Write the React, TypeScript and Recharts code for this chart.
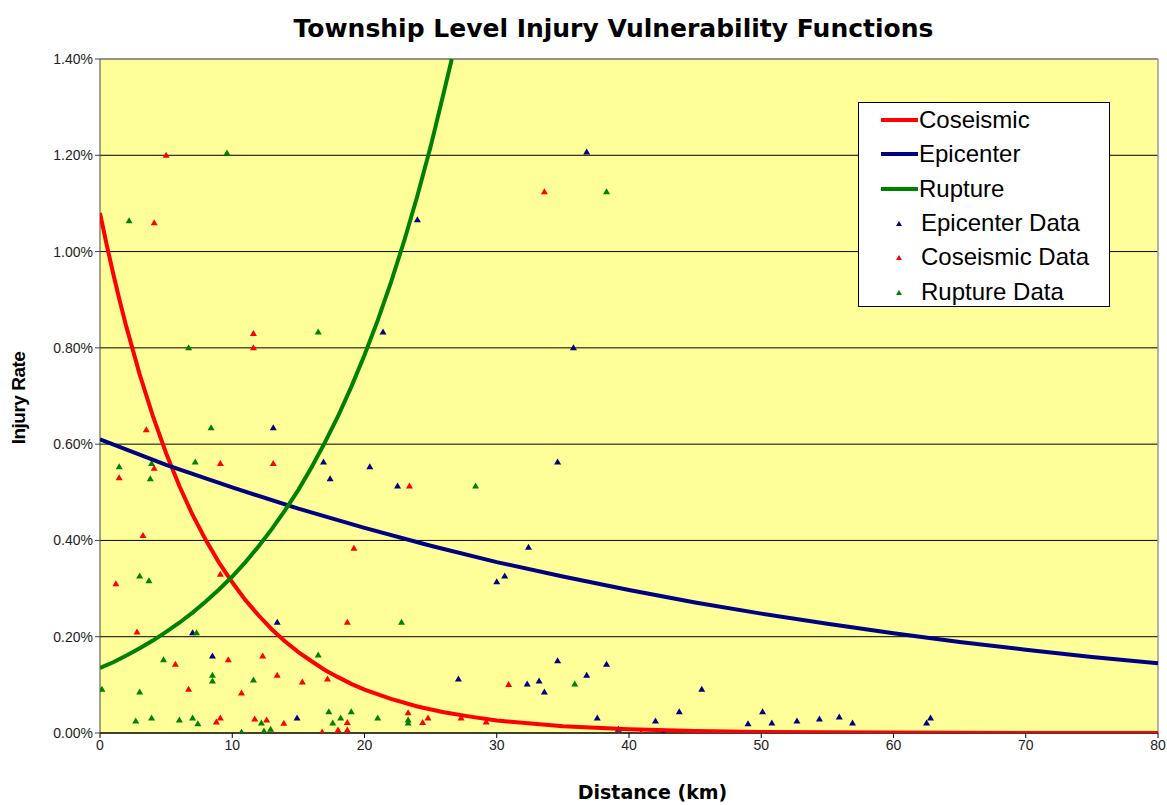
import React from 'react';
import {
    CartesianGrid,
    ReferenceLine,
    Scatter,
    ScatterChart,
    XAxis,
    YAxis
} from 'recharts';

// fitted curves (km, injury rate %)
const coseismicX = [0, 0.5, 1, 1.5, 2, 3, 4, 5, 6, 7, 8, 9, 10, 11, 12, 13, 14, 15, 16, 17, 18, 19, 20, 22, 24, 26, 28, 30, 35, 40, 45, 50, 60, 70, 80];
const coseismicY = [1.08, 1.015, 0.954, 0.897, 0.843, 0.745, 0.658, 0.581, 0.513, 0.453, 0.401, 0.354, 0.313, 0.276, 0.244, 0.215, 0.19, 0.168, 0.149, 0.131, 0.116, 0.102, 0.09, 0.071, 0.055, 0.043, 0.034, 0.026, 0.014, 0.008, 0.004, 0.002, 0.001, 0.0, 0.0];

const epicenterX = [0, 5, 10, 15, 20, 25, 30, 35, 40, 45, 50, 55, 60, 65, 70, 75, 80];
const epicenterY = [0.61, 0.557, 0.51, 0.466, 0.426, 0.389, 0.355, 0.325, 0.297, 0.271, 0.248, 0.227, 0.207, 0.189, 0.173, 0.158, 0.145];

const ruptureX = [0, 1, 2, 3, 4, 5, 6, 7, 8, 9, 10, 11, 12, 13, 14, 15, 16, 17, 18, 19, 20, 21, 22, 23, 24, 25, 26, 26.6];
const ruptureY = [0.135, 0.147, 0.161, 0.176, 0.192, 0.21, 0.229, 0.25, 0.273, 0.298, 0.325, 0.355, 0.388, 0.424, 0.463, 0.505, 0.552, 0.603, 0.658, 0.719, 0.785, 0.857, 0.936, 1.022, 1.116, 1.218, 1.331, 1.4];

// township data points [km, %]
const epicenterData: [number, number][] = [
    [36.8, 1.207], [24.0, 1.066], [21.4, 0.833], [35.8, 0.8], [34.6, 0.563], [22.5, 0.513], [32.4, 0.386],
    [13.1, 0.634], [16.9, 0.563], [20.4, 0.553], [17.4, 0.528], [13.4, 0.23], [7.0, 0.208], [8.5, 0.16],
    [14.9, 0.031], [30.0, 0.314], [30.6, 0.326], [27.1, 0.112], [32.3, 0.102], [33.2, 0.108], [33.6, 0.085],
    [34.6, 0.15], [36.8, 0.12], [38.3, 0.143], [37.6, 0.031], [39.2, 0.008], [42.0, 0.025], [42.6, 0.002],
    [43.8, 0.044], [45.5, 0.091], [49.0, 0.019], [50.1, 0.044], [50.8, 0.021], [52.7, 0.025], [54.4, 0.029],
    [55.9, 0.033], [56.9, 0.021], [62.5, 0.021], [62.8, 0.031]
];

const coseismicData: [number, number][] = [
    [5.0, 1.2], [4.1, 1.06], [11.6, 0.83], [11.6, 0.8], [3.5, 0.63], [9.1, 0.56], [13.1, 0.56], [4.1, 0.55],
    [1.45, 0.53], [23.4, 0.513], [3.25, 0.41], [1.2, 0.31], [9.1, 0.33], [19.2, 0.384], [2.8, 0.21],
    [18.7, 0.23], [5.7, 0.143], [9.7, 0.152], [12.3, 0.16], [6.7, 0.091], [10.7, 0.083], [13.4, 0.12],
    [15.3, 0.106], [17.2, 0.112], [8.8, 0.023], [9.1, 0.031], [11.7, 0.029], [12.6, 0.027], [13.9, 0.02],
    [16.8, 0.002], [18.0, 0.006], [18.7, 0.022], [18.7, 0.006], [23.3, 0.042], [24.4, 0.022], [24.8, 0.031],
    [27.3, 0.031], [29.2, 0.023], [30.9, 0.101], [40.9, 0.0], [33.6, 1.124]
];

const ruptureData: [number, number][] = [
    [9.6, 1.205], [2.2, 1.064], [6.7, 0.8], [16.5, 0.833], [8.4, 0.634], [7.2, 0.563], [1.45, 0.553],
    [3.8, 0.528], [3.9, 0.56], [38.3, 1.124], [28.4, 0.513], [3.0, 0.326], [3.7, 0.316], [7.3, 0.208],
    [4.8, 0.152], [8.5, 0.12], [8.5, 0.108], [0.15, 0.091], [3.0, 0.085], [11.6, 0.11], [16.5, 0.162],
    [2.7, 0.025], [3.9, 0.031], [6.0, 0.027], [7.0, 0.031], [7.4, 0.019], [10.7, 0.002], [12.2, 0.021],
    [12.4, 0.004], [12.9, 0.008], [17.3, 0.044], [17.6, 0.021], [18.2, 0.031], [19.0, 0.044], [21.0, 0.031],
    [22.8, 0.23], [23.3, 0.027], [23.3, 0.021], [35.9, 0.102], [46.3, 0.0]
];

const xTicks = [0, 10, 20, 30, 40, 50, 60, 70, 80];
const yTicks = [0, 0.2, 0.4, 0.6, 0.8, 1.0, 1.2, 1.4];

const RED = '#ff0000';
const NAVY = '#000080';
const GREEN = '#008000';
const FONT = '"Liberation Sans", Arial, sans-serif';
const BOLD_FONT = '"DejaVu Sans", Verdana, sans-serif';

const toPoints = (xs: number[], ys: number[]) => xs.map((x, i) => ({ x, y: ys[i] }));
const pairs = (arr: [number, number][]) => arr.map(([x, y]) => ({ x, y }));

const triangle = (color: string) => (props: any) => {
    const { cx, cy } = props;
    if (cx == null || cy == null) return <g />;
    return (
        <polygon
            points={`${cx},${cy - 3.5} ${cx + 3.5},${cy + 2.5} ${cx - 3.5},${cy + 2.5}`}
            fill={color}
        />
    );
};

const noShape = () => <g />;

const legendItems = [
    { label: 'Coseismic', color: RED, kind: 'line' },
    { label: 'Epicenter', color: NAVY, kind: 'line' },
    { label: 'Rupture', color: GREEN, kind: 'line' },
    { label: 'Epicenter Data', color: NAVY, kind: 'marker' },
    { label: 'Coseismic Data', color: RED, kind: 'marker' },
    { label: 'Rupture Data', color: GREEN, kind: 'marker' }
];

const ChartLegend = () => (
    <div style={{
        position: 'absolute', left: 858, top: 102, width: 252, height: 205,
        background: '#fff', border: '1px solid #000', fontFamily: FONT, fontSize: 24,
        color: '#000', boxSizing: 'border-box', paddingTop: 0
    }}>
        {legendItems.map(item => (
            <div key={item.label} style={{ display: 'flex', alignItems: 'center', height: 34.3, lineHeight: '34px' }}>
                <svg width={60} height={20} style={{ flexShrink: 0 }}>
                    {item.kind === 'line'
                        ? <line x1={22} x2={59} y1={10} y2={10} stroke={item.color} strokeWidth={4} />
                        : <polygon points="40,8 43,13 37,13" fill={item.color} />}
                </svg>
                <span style={{ marginLeft: item.kind === 'line' ? 0 : 2 }}>{item.label}</span>
            </div>
        ))}
    </div>
);

export default function App() {
    return (
        <div style={{ position: 'absolute', left: 0, top: 0, width: 1167, height: 805, background: '#fff', fontFamily: FONT }}>
            <div style={{
                position: 'absolute', left: 0, top: 14, width: 1167, textAlign: 'center',
                fontFamily: BOLD_FONT, fontSize: 25, fontWeight: 'bold', paddingLeft: 60, boxSizing: 'border-box'
            }}>
                Township Level Injury Vulnerability Functions
            </div>
            <div style={{
                position: 'absolute', left: 19, top: 398, transform: 'translate(-50%, -50%) rotate(-90deg)',
                fontSize: 19, fontWeight: 'bold', whiteSpace: 'nowrap', letterSpacing: -0.5
            }}>
                Injury Rate
            </div>
            <div style={{
                position: 'absolute', left: 0, top: 781, width: 1167, textAlign: 'center',
                fontFamily: BOLD_FONT, fontSize: 19, fontWeight: 'bold', paddingLeft: 138, boxSizing: 'border-box'
            }}>
                Distance (km)
            </div>
            <div style={{ position: 'absolute', left: 0, top: 0 }}>
                <ScatterChart width={1167} height={805} margin={{ top: 59, right: 9, bottom: 0, left: 40 }}>
                    <CartesianGrid vertical={false} stroke="#000" strokeWidth={1} fill="#ffff99" fillOpacity={1} />
                    <XAxis
                        type="number"
                        dataKey="x"
                        domain={[0, 80]}
                        ticks={xTicks}
                        allowDataOverflow
                        stroke="#000"
                        tickSize={5}
                        tick={{ fill: '#222', fontSize: 14, fontFamily: FONT }}
                        height={72}
                    />
                    <YAxis
                        type="number"
                        dataKey="y"
                        domain={[0, 1.4]}
                        ticks={yTicks}
                        allowDataOverflow
                        width={60}
                        stroke="#444"
                        tickSize={5}
                        tick={{ fill: '#222', fontSize: 14, fontFamily: FONT }}
                        tickFormatter={(v: number) => `${v.toFixed(2)}%`}
                    />
                    <ReferenceLine x={80} stroke="#999" strokeWidth={1.5} />
                    <ReferenceLine y={1.4} stroke="#999" strokeWidth={1.5} />
                    <Scatter name="Epicenter Data" data={pairs(epicenterData)} shape={triangle(NAVY)} isAnimationActive={false} />
                    <Scatter name="Coseismic Data" data={pairs(coseismicData)} shape={triangle(RED)} isAnimationActive={false} />
                    <Scatter name="Rupture Data" data={pairs(ruptureData)} shape={triangle(GREEN)} isAnimationActive={false} />
                    <Scatter name="Coseismic" data={toPoints(coseismicX, coseismicY)} line={{ stroke: RED, strokeWidth: 4 }} shape={noShape} isAnimationActive={false} />
                    <Scatter name="Epicenter" data={toPoints(epicenterX, epicenterY)} line={{ stroke: NAVY, strokeWidth: 4 }} shape={noShape} isAnimationActive={false} />
                    <Scatter name="Rupture" data={toPoints(ruptureX, ruptureY)} line={{ stroke: GREEN, strokeWidth: 4 }} shape={noShape} isAnimationActive={false} />
                </ScatterChart>
            </div>
            <ChartLegend />
        </div>
    );
}
